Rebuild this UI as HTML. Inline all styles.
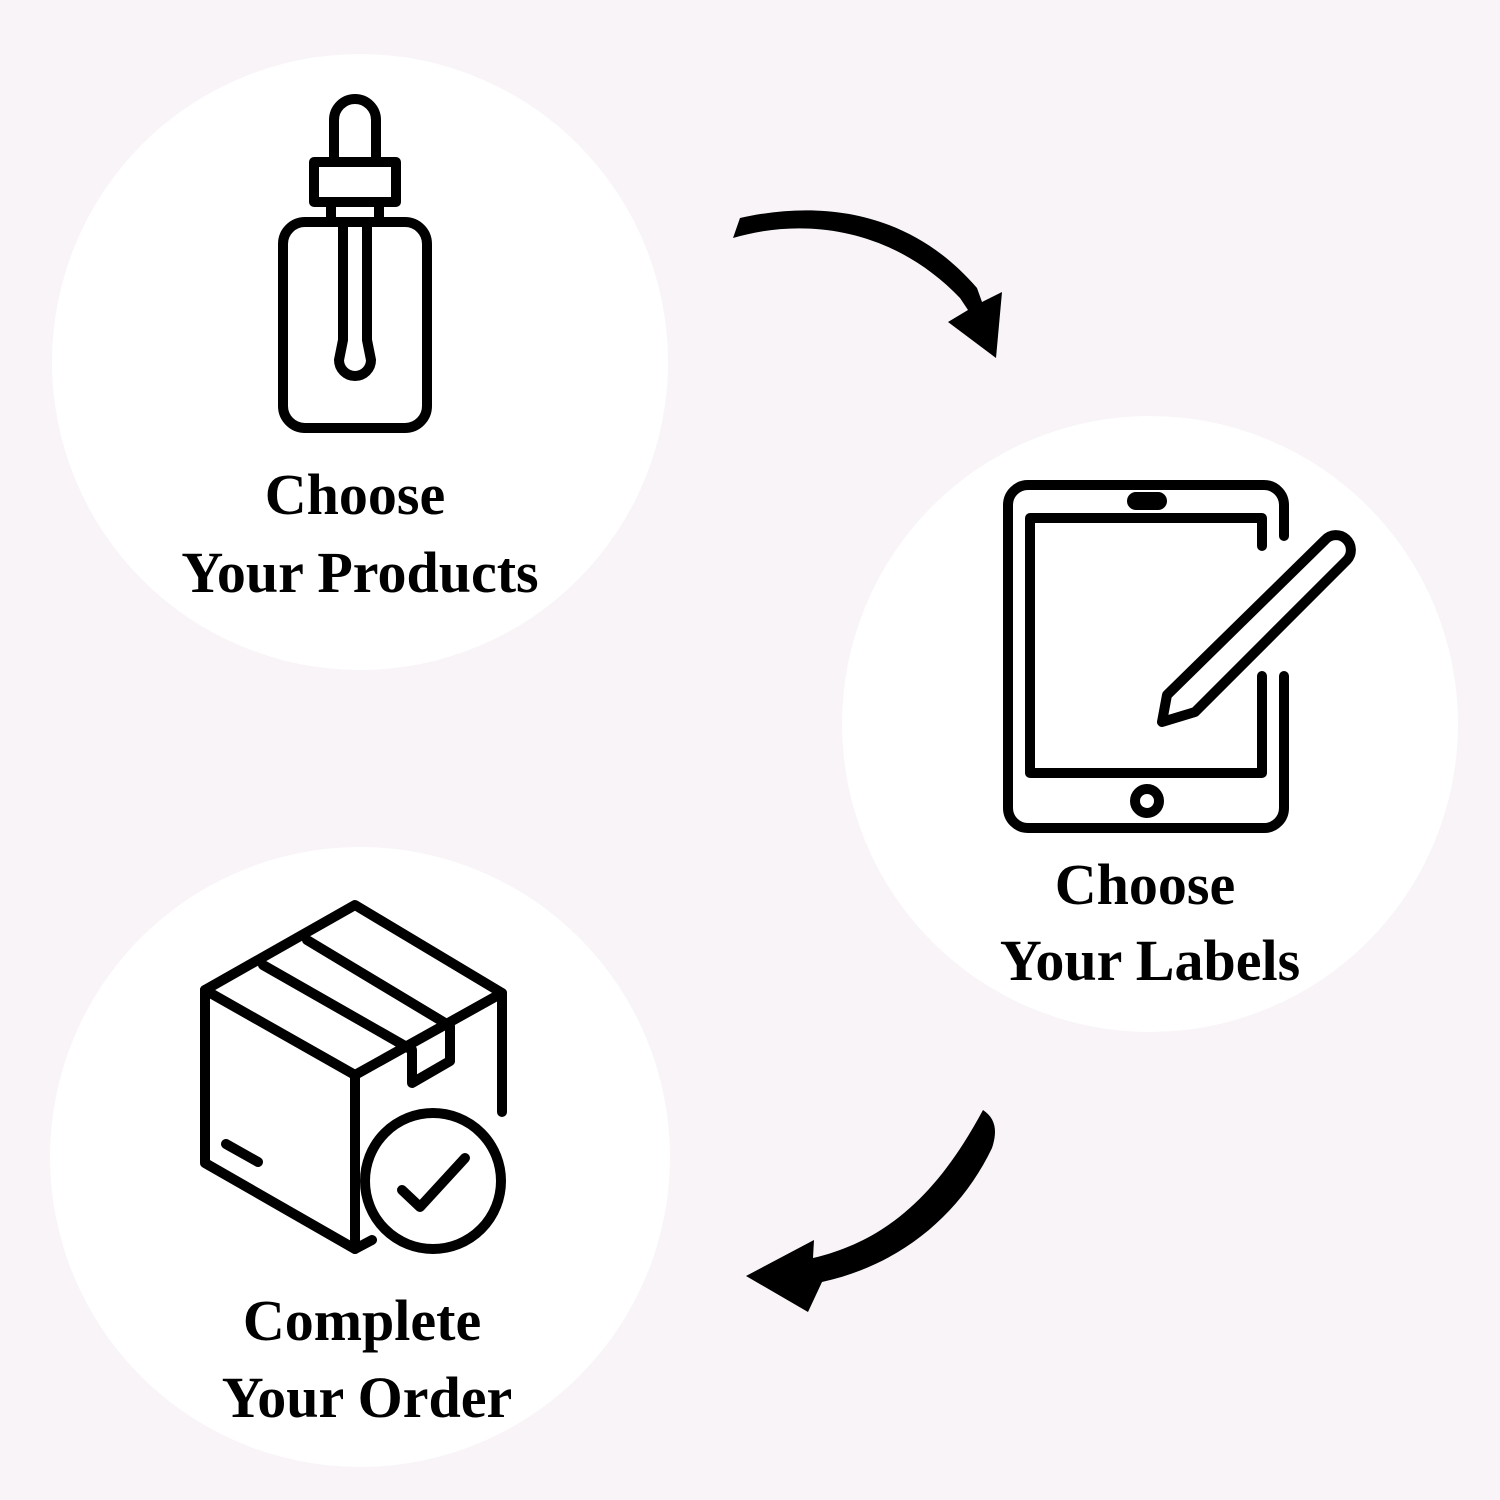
<!DOCTYPE html>
<html><head><style>
html,body{margin:0;padding:0;background:#f8f4f7;}
svg{display:block}
text{font-family:"Liberation Serif",serif;font-weight:bold;font-size:58px;fill:#000;text-anchor:middle}
</style></head><body>
<svg width="1500" height="1500" viewBox="0 0 1500 1500">
<rect width="1500" height="1500" fill="#f8f4f7"/>
<circle cx="360" cy="362" r="308" fill="#fff"/>
<circle cx="1150" cy="724" r="308" fill="#fff"/>
<circle cx="360" cy="1157" r="310" fill="#fff"/>

<g fill="none" stroke="#000" stroke-width="10" stroke-linejoin="round">
<rect x="283" y="222" width="144" height="206" rx="22"/>
<rect x="314" y="162" width="82" height="40"/>
<path d="M334 162 V120 a21 21 0 0 1 42 0 V162"/>
<path d="M331 202 V222 M379 202 V222"/>
<path d="M343 222 V340 l-4 20 a16 16 0 0 0 32 0 l-4 -20 V222"/>
</g>
<text x="355" y="514">Choose</text>
<text x="360" y="592">Your Products</text>

<g fill="none" stroke="#000" stroke-width="10" stroke-linejoin="round" stroke-linecap="round">
<path d="M1284 536 V505 a20 20 0 0 0 -20 -20 H1028 a20 20 0 0 0 -20 20 V808 a20 20 0 0 0 20 20 H1264 a20 20 0 0 0 20 -20 V676"/>
<path d="M1262 546 V518 H1030 V773 H1262 V676"/>
<rect x="1132" y="497" width="30" height="8" rx="4" fill="#000"/>
<circle cx="1147" cy="801" r="12"/>
<path d="M1325 540 a14 14 0 0 1 22 20 L1195 712 L1162 722 L1167 695 Z"/>
</g>
<text x="1145" y="904">Choose</text>
<text x="1150" y="980">Your Labels</text>

<g fill="none" stroke="#000" stroke-width="10" stroke-linejoin="round" stroke-linecap="round">
<path d="M205 990 L355 905 L502 993 V1112"/>
<path d="M205 990 V1163 L355 1249"/>
<path d="M205 990 L355 1075 L502 993"/>
<path d="M355 1075 V1249 L372 1240"/>
<path d="M263 965 L412 1050 V1083 L450 1061 V1026 L307 940"/>
<path d="M226 1144 L258 1162"/>
<circle cx="433" cy="1181" r="68"/>
<path d="M402 1190 L420 1207 L465 1158"/>
</g>
<text x="362" y="1340">Complete</text>
<text x="367" y="1417">Your Order</text>

<path d="M733 238 C800 218 890 225 960 298 L968 310 L948 322 L996 358 L1002 292 L982 302 L977 288 C910 210 820 200 740 218 Z" fill="#000"/>
<path d="M983 1110 C995 1118 998 1130 992 1148 C960 1215 900 1265 822 1282 L808 1312 L746 1276 L814 1240 L813 1258 C890 1240 940 1190 983 1110 Z" fill="#000"/>
</svg>
</body></html>
